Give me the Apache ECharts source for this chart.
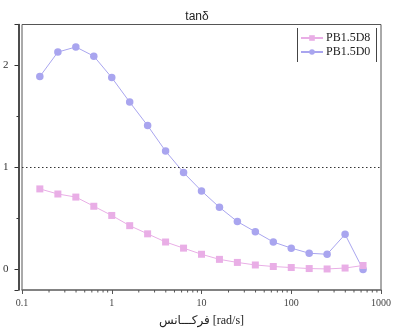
<!DOCTYPE html>
<html>
<head>
<meta charset="utf-8">
<script src="https://cdn.jsdelivr.net/npm/echarts@6/dist/echarts.min.js"></script>
<style>
  html, body {margin: 0; padding: 0; background: #fff;}
  #chart {width: 394px; height: 332px;}
</style>
</head>
<body>
<div id="chart"></div>
<script>
// frequency points, 5 per decade
const freq = [0.158, 0.251, 0.398, 0.631, 1, 1.585, 2.51, 3.98, 6.31, 10,
  15.85, 25.1, 39.8, 63.1, 100, 158.5, 251, 398, 631];
const pb15d8 = [0.79, 0.74, 0.71, 0.62, 0.53, 0.43, 0.35, 0.27, 0.21, 0.15,
  0.10, 0.07, 0.045, 0.03, 0.02, 0.01, 0.006, 0.015, 0.04];
const pb15d0 = [1.89, 2.13, 2.18, 2.09, 1.88, 1.64, 1.41, 1.16, 0.95, 0.77,
  0.61, 0.47, 0.37, 0.27, 0.21, 0.16, 0.15, 0.345, 0.0];
const seriesNames = ['PB1.5D8', 'PB1.5D0'];
const refLine = 1;
const xTicks = [0.1, 1, 10, 100, 1000];
const xMinorTicks = [0.2, 0.3, 0.4, 0.5, 0.6, 0.7, 0.8, 0.9,
  2, 3, 4, 5, 6, 7, 8, 9, 20, 30, 40, 50, 60, 70, 80, 90,
  200, 300, 400, 500, 600, 700, 800, 900];
const yTicks = [0, 1, 2];
const yMin = -0.2;
const yMax = 2.4;

const pairs = (ys) => freq.map((f, i) => [f, ys[i]]);

const chart = echarts.init(document.getElementById('chart'));
chart.setOption({
  animation: false,
  title: {
    text: 'tanδ',
    left: 'center',
    top: 6,
    textStyle: {fontFamily: 'Liberation Sans', fontSize: 12, fontWeight: 'normal', color: '#222'}
  },
  legend: {
    orient: 'vertical',
    left: 295,
    top: 27,
    itemWidth: 22,
    itemHeight: 7,
    itemGap: 2,
    data: seriesNames,
    textStyle: {fontFamily: 'Liberation Serif', fontSize: 12, color: '#222', padding: [0, 0, 0, -2]}
  },
  graphic: [
    {type: 'line', shape: {x1: 297.5, y1: 28, x2: 297.5, y2: 62}, style: {stroke: '#444', lineWidth: 1}},
    {type: 'line', shape: {x1: 376.5, y1: 28, x2: 376.5, y2: 62}, style: {stroke: '#444', lineWidth: 1}}
  ],
  grid: {
    left: 16,
    right: 7.5,
    top: 24.5,
    bottom: 38.5,
    show: true,
    borderColor: '#555',
    borderWidth: 1
  },
  xAxis: {
    type: 'log',
    logBase: 10,
    min: xTicks[0],
    max: xTicks[xTicks.length - 1],
    name: 'فرکـــانس [rad/s]',
    nameLocation: 'middle',
    nameGap: 25,
    nameTextStyle: {fontFamily: 'Liberation Serif, DejaVu Sans', fontSize: 12, color: '#222'},
    axisLine: {onZero: false, lineStyle: {color: '#777', width: 1.5}},
    axisTick: {show: true, length: 4, lineStyle: {color: '#555'}},
    minorTick: {show: false},
    splitLine: {show: false},
    axisLabel: {
      margin: 8,
      fontFamily: 'Liberation Serif',
      fontSize: 10,
      color: '#444',
      formatter: (v) => xTicks.some(t => Math.abs(t - v) < 1e-9) ? String(v) : ''
    }
  },
  yAxis: {
    type: 'value',
    min: yMin,
    max: yMax,
    splitNumber: 3,
    offset: 3.5,
    axisLine: {show: true, lineStyle: {color: '#111', width: 1.5}},
    axisTick: {show: true, length: 4, lineStyle: {color: '#333'}},
    minorTick: {show: true, splitNumber: 2, length: 2, lineStyle: {color: '#333'}},
    splitLine: {show: false},
    axisLabel: {
      margin: 10,
      fontFamily: 'Liberation Serif',
      fontSize: 11,
      color: '#333',
      formatter: (v) => yTicks.includes(v) ? String(v) : ''
    }
  },
  series: [
    {
      name: seriesNames[0],
      type: 'line',
      data: pairs(pb15d8),
      symbol: 'rect',
      symbolSize: 7,
      itemStyle: {color: '#e9aee6'},
      lineStyle: {color: '#e9aee6', width: 1},
      z: 3
    },
    {
      name: seriesNames[1],
      type: 'line',
      data: pairs(pb15d0),
      symbol: 'circle',
      symbolSize: 7.5,
      itemStyle: {color: '#a9a5ef'},
      lineStyle: {color: '#a9a5ef', width: 1},
      z: 2,
      markLine: {
        silent: true,
        symbol: 'none',
        label: {show: false},
        lineStyle: {color: '#333', type: [1.5, 2.5], width: 1.2},
        data: [{yAxis: refLine}]
      }
    },
    {
      // log minor ticks on the frequency axis
      type: 'custom',
      silent: true,
      clip: false,
      data: xMinorTicks.map(v => [v, yMin]),
      renderItem: (params, api) => {
        const p = api.coord([api.value(0), api.value(1)]);
        return {
          type: 'line',
          shape: {x1: p[0], y1: p[1], x2: p[0], y2: p[1] + 2.5},
          style: {stroke: '#555', lineWidth: 1}
        };
      },
      z: 5
    }
  ]
});
</script>
</body>
</html>
